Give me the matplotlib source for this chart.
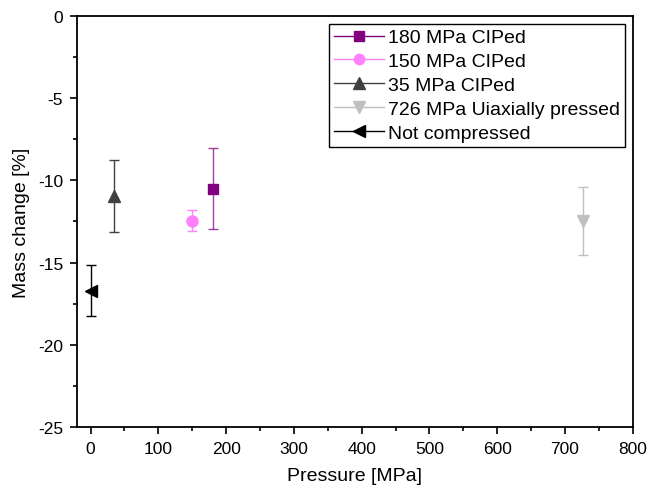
import matplotlib
matplotlib.use("Agg")
import matplotlib.pyplot as plt
from matplotlib.lines import Line2D
from matplotlib.ticker import MultipleLocator

plt.rcParams.update({"font.family": ["Liberation Sans", "DejaVu Sans"], "font.size": 12,
                     "axes.unicode_minus": False})

LABELS = ["180 MPa CIPed", "150 MPa CIPed", "35 MPa CIPed",
          "726 MPa Uiaxially pressed", "Not compressed"]
PRESSURE = [180, 150, 35, 726, 0]
MASS = [-10.5, -12.45, -10.95, -12.45, -16.7]
ERR = [2.45, 0.65, 2.2, 2.07, 1.57]
COLORS = ["#800080", "#FF80FF", "#404040", "#C0C0C0", "#000000"]
MARKERS = ["s", "o", "^", "v", "<"]
SIZES = [7, 8, 8.5, 8.5, 8.5]

fig = plt.figure(figsize=(6.49, 4.89), dpi=100)
ax = fig.add_axes([0.1187, 0.125, 0.8563, 0.84])

handles = []
for x, y, e, c, m, sz, lab in zip(PRESSURE, MASS, ERR, COLORS, MARKERS, SIZES, LABELS):
    ax.errorbar([x], [y], yerr=[e], fmt="none", ecolor=c, elinewidth=1.0,
                capsize=3.5, capthick=1.0, alpha=0.75 if c == "#800080" else 1.0)
    ax.plot([x], [y], marker=m, color=c, ms=sz, ls="none", zorder=3)
    handles.append(Line2D([], [], color=c, marker=m, ms=sz - 0.5, lw=1.0, label=lab))

ax.set_xlim(-20, 800)
ax.set_ylim(-25, 0)
ax.xaxis.set_major_locator(MultipleLocator(100))
ax.xaxis.set_minor_locator(MultipleLocator(50))
ax.yaxis.set_major_locator(MultipleLocator(5))
ax.yaxis.set_minor_locator(MultipleLocator(2.5))
ax.tick_params(which="both", direction="out", top=False, right=False, width=1.2)
ax.tick_params(which="major", length=5, pad=5)
ax.tick_params(which="minor", length=3)
ax.tick_params(labelsize=12.5)
for s in ax.spines.values():
    s.set_linewidth(1.3)

ax.set_xlabel("Pressure [MPa]", fontsize=14, labelpad=8)
ax.set_ylabel("Mass change [%]", fontsize=14, labelpad=6)

leg = ax.legend(handles=handles, loc="upper right", fontsize=14, frameon=True,
                fancybox=False, edgecolor="black", framealpha=1,
                handlelength=2.6, handletextpad=0.2, labelspacing=0.32,
                borderpad=0.25, borderaxespad=0.4)
leg.get_frame().set_linewidth(1.0)

fig.savefig("out.png")
